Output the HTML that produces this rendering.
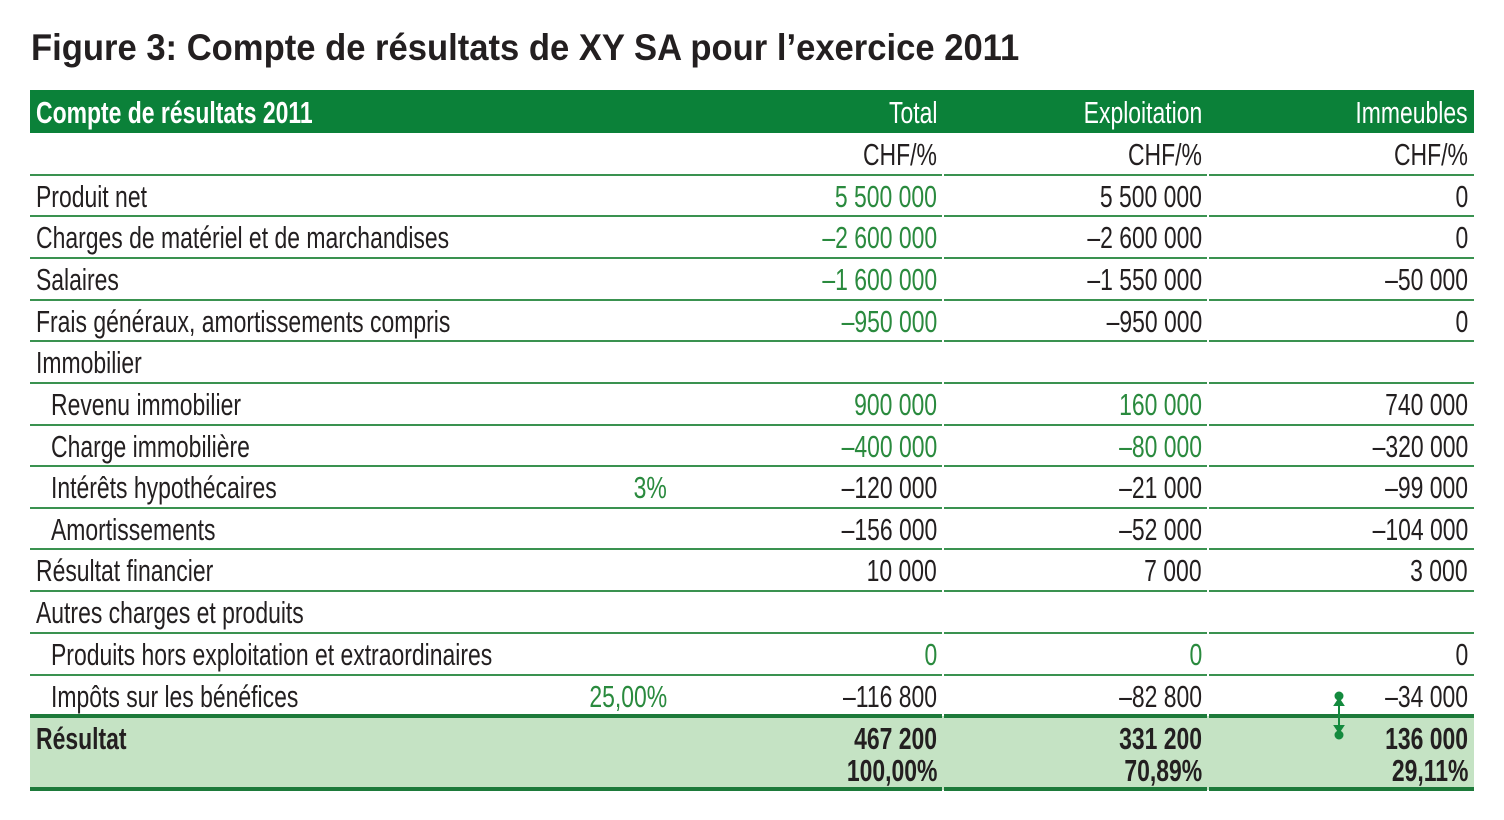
<!DOCTYPE html>
<html><head><meta charset="utf-8"><style>
body{margin:0;width:1504px;height:820px;background:#fff;position:relative;overflow:hidden;font-family:"Liberation Sans Narrow","Liberation Sans",sans-serif;color:#231f20}
.t{position:absolute;left:31px;top:28px;font-family:"Liberation Sans",sans-serif;font-weight:bold;font-size:37px;transform:scaleX(0.935);transform-origin:left;white-space:nowrap;line-height:40px}
.a{position:absolute;white-space:nowrap;font-size:31px;line-height:34px;transform:scaleX(0.74);transform-origin:left}
.r{text-align:right;transform-origin:right}
.g{color:#2a8a3e}
.w{color:#fff}
.b{font-weight:bold}
.ln{position:absolute;height:2px;background:#2e8a45}
</style></head><body>
<div class="t">Figure 3: Compte de résultats de XY SA pour l’exercice 2011</div>
<div style="position:absolute;left:30px;top:90px;width:1444px;height:43px;background:#0b8139"></div>
<div style="position:absolute;left:30px;top:716px;width:1444px;height:74px;background:#c5e3c4"></div>
<div id="c"></div>
<script>
var rows=[
["","CHF/%","CHF/%","CHF/%","",0,[0,0,0]],
["Produit net","5 500 000","5 500 000","0","",0,[1,0,0]],
["Charges de matériel et de marchandises","–2 600 000","–2 600 000","0","",0,[1,0,0]],
["Salaires","–1 600 000","–1 550 000","–50 000","",0,[1,0,0]],
["Frais généraux, amortissements compris","–950 000","–950 000","0","",0,[1,0,0]],
["Immobilier","","","","",0,[0,0,0]],
["Revenu immobilier","900 000","160 000","740 000","",1,[1,1,0]],
["Charge immobilière","–400 000","–80 000","–320 000","",1,[1,1,0]],
["Intérêts hypothécaires","–120 000","–21 000","–99 000","3%",1,[0,0,0]],
["Amortissements","–156 000","–52 000","–104 000","",1,[0,0,0]],
["Résultat financier","10 000","7 000","3 000","",0,[0,0,0]],
["Autres charges et produits","","","","",0,[0,0,0]],
["Produits hors exploitation et extraordinaires","0","0","0","",1,[1,1,0]],
["Impôts sur les bénéfices","–116 800","–82 800","–34 000","25,00%",1,[0,0,0]]
];
var h='';
var bounds=[133,175,216,258,300,341,383,425,466,508,549,591,633,675,716];
function seg(y,hh,c){return '<div class="ln" style="left:30px;top:'+y+'px;width:912px;height:'+hh+'px;background:'+c+'"></div><div class="ln" style="left:944px;top:'+y+'px;width:263px;height:'+hh+'px;background:'+c+'"></div><div class="ln" style="left:1209px;top:'+y+'px;width:265px;height:'+hh+'px;background:'+c+'"></div>';}
rows.forEach(function(r,i){
 var top=bounds[i]+(bounds[i+1]-bounds[i])/2-16;
 h+='<div class="a" style="left:'+(r[5]?51:36)+'px;top:'+top+'px">'+r[0]+'</div>';
 var rs=[937,1202,1468];
 for(var k=0;k<3;k++) if(r[k+1]) h+='<div class="a r'+(r[6][k]?' g':'')+'" style="right:'+(1504-rs[k])+'px;top:'+top+'px">'+r[k+1]+'</div>';
 if(r[4]) h+='<div class="a r g" style="right:'+(1504-667)+'px;top:'+top+'px">'+r[4]+'</div>';
 if(i<13) h+=seg(bounds[i+1]-1,2,'#3a9250');
});
h+=seg(714,4,'#1d7a3a');
h+=seg(787,4,'#1d7a3a');
h+='<div class="a w" style="left:36px;top:96px;font-weight:bold">Compte de résultats 2011</div>';
h+='<div class="a r w" style="right:567px;top:96px">Total</div>';
h+='<div class="a r w" style="right:302px;top:96px">Exploitation</div>';
h+='<div class="a r w" style="right:36px;top:96px">Immeubles</div>';
h+='<div class="a b" style="left:36px;top:722px">Résultat</div>';
var res=[["467 200","100,00%",937],["331 200","70,89%",1202],["136 000","29,11%",1468]];
res.forEach(function(x){h+='<div class="a r b" style="right:'+(1504-x[2])+'px;top:722px">'+x[0]+'</div><div class="a r b" style="right:'+(1504-x[2])+'px;top:754px">'+x[1]+'</div>';});
h+='<svg style="position:absolute;left:1330px;top:690px" width="20" height="52"><g fill="#148a3e" stroke="#148a3e" stroke-width="2"><circle cx="9" cy="6" r="3.5"/><circle cx="9" cy="45" r="3.5"/><line x1="9" y1="6" x2="9" y2="45"/><path d="M5 15 L9 9 L13 15Z"/><path d="M5 36 L9 42 L13 36Z"/></g></svg>';
document.getElementById('c').innerHTML=h;
</script>
</body></html>
